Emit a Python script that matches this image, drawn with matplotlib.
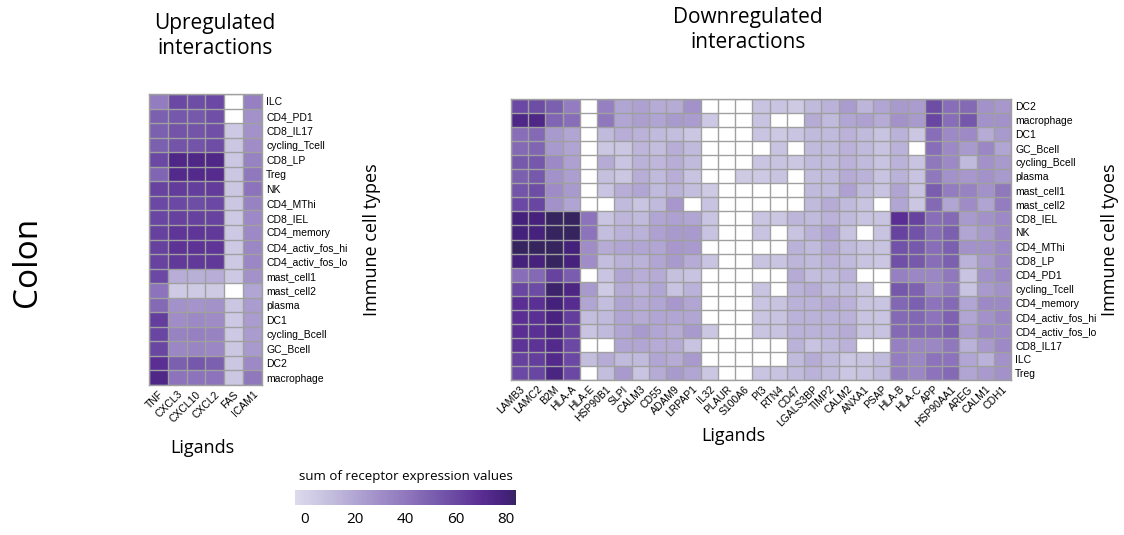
import numpy as np
import matplotlib
matplotlib.use("Agg")
import matplotlib.pyplot as plt
from matplotlib.colors import LinearSegmentedColormap, Normalize
from matplotlib.colorbar import ColorbarBase

nan = np.nan

# upregulated interactions
up_ligands = ["TNF", "CXCL3", "CXCL10", "CXCL2", "FAS", "ICAM1"]
up_cells = ["ILC", "CD4_PD1", "CD8_IL17", "cycling_Tcell", "CD8_LP", "Treg", "NK",
            "CD4_MThi", "CD8_IEL", "CD4_memory", "CD4_activ_fos_hi", "CD4_activ_fos_lo",
            "mast_cell1", "mast_cell2", "plasma", "DC1", "cycling_Bcell", "GC_Bcell",
            "DC2", "macrophage"]
up_values = [
    [38, 60, 58, 60, nan, 36],
    [50, 54, 53, 57, nan, 28],
    [50, 55, 55, 57, 5, 28],
    [50, 55, 55, 58, 6, 30],
    [60, 75, 75, 75, 6, 35],
    [48, 73, 73, 72, 6, 40],
    [62, 65, 64, 65, 6, 42],
    [60, 60, 58, 60, 6, 35],
    [61, 63, 63, 62, 5, 32],
    [63, 67, 67, 66, 5, 32],
    [63, 68, 68, 67, 5, 33],
    [62, 66, 66, 66, 5, 33],
    [60, 17, 16, 17, 5, 28],
    [42, 4, 4, 4, nan, 20],
    [46, 28, 27, 28, 6, 24],
    [64, 30, 32, 31, 5, 24],
    [61, 35, 36, 35, 5, 24],
    [61, 33, 34, 33, 6, 25],
    [70, 50, 54, 50, 6, 32],
    [75, 42, 42, 42, 6, 40],
]

# downregulated interactions
down_ligands = ["LAMB3", "LAMC2", "B2M", "HLA-A", "HLA-E", "HSP90B1", "SLPI", "CALM3",
                "CD55", "ADAM9", "LRPAP1", "IL32", "PLAUR", "S100A6", "PI3", "RTN4",
                "CD47", "LGALS3BP", "TIMP2", "CALM2", "ANXA1", "PSAP", "HLA-B", "HLA-C",
                "APP", "HSP90AA1", "AREG", "CALM1", "CDH1"]
down_cells = ["DC2", "macrophage", "DC1", "GC_Bcell", "cycling_Bcell", "plasma",
              "mast_cell1", "mast_cell2", "CD8_IEL", "NK", "CD4_MThi", "CD8_LP",
              "CD4_PD1", "cycling_Tcell", "CD4_memory", "CD4_activ_fos_hi",
              "CD4_activ_fos_lo", "CD8_IL17", "ILC", "Treg"]
down_values = [
    [60, 58, 50, 38, nan, 36, 20, 22, 18, 18, 28, nan, nan, nan, 8, 7, 4, 12, 15, 24, 14, 20, 25, 24, 58, 44, 46, 28, 26],
    [75, 75, 48, 44, nan, 40, 20, 23, 21, 25, 24, 5, nan, nan, 8, nan, nan, 18, 12, 20, 22, 18, 28, 25, 61, 44, 54, 28, 28],
    [44, 46, 25, 20, nan, 12, 17, 15, 12, 10, 6, nan, nan, nan, 7, 5, 7, 12, 12, 15, 12, 8, 15, 6, 44, 32, 32, 18, 25],
    [46, 48, 25, 21, nan, 6, 6, 14, 10, 17, 12, nan, nan, nan, nan, 8, nan, 12, 12, 15, 12, 8, 15, nan, 44, 32, 25, 33, 20],
    [53, 54, 32, 22, nan, 18, 7, 15, 13, 17, 12, nan, nan, nan, 7, 8, 6, 12, 12, 15, 12, 8, 15, 8, 40, 32, 12, 28, 25],
    [50, 53, 28, 23, nan, 9, 6, 17, 12, 17, 8, nan, nan, 4, 5, 8, nan, 10, 12, 18, 15, 8, 15, 8, 40, 28, 26, 28, 25],
    [55, 58, 31, 25, nan, 7, 17, 20, 12, 15, 10, 4, nan, nan, nan, nan, nan, 12, 12, 22, 12, 8, 21, 8, 51, 38, 35, 28, 40],
    [60, 61, 28, 21, nan, nan, 12, 7, 12, 26, nan, 8, nan, nan, nan, nan, nan, 12, 18, 12, 8, nan, 20, 6, 46, 20, 31, 21, 38],
    [80, 79, 85, 85, 42, 7, 14, 12, 20, 22, 20, 7, nan, nan, 7, 6, 14, 12, 15, 12, 8, 8, 70, 62, 44, 46, 25, 28, 32],
    [80, 79, 84, 84, 42, 10, 15, 15, 22, 25, 25, 8, nan, nan, 8, nan, 8, 15, 20, 8, nan, 8, 62, 56, 44, 50, 20, 25, 32],
    [85, 84, 84, 80, 30, 18, 20, 20, 20, 26, 25, nan, nan, nan, nan, nan, 15, 12, 18, 12, 8, 8, 56, 53, 44, 50, 28, 28, 32],
    [80, 79, 84, 79, 30, 10, 15, 15, 20, 25, 18, 7, nan, nan, 8, 7, 14, 12, 15, 12, 8, 6, 57, 53, 44, 50, 15, 25, 32],
    [44, 46, 62, 51, nan, 7, 20, 17, 18, 9, 8, nan, nan, nan, nan, nan, 18, 10, 12, 15, nan, nan, 36, 33, 33, 40, 8, 28, 32],
    [61, 59, 82, 76, 25, 4, 18, 15, 20, 8, 15, nan, nan, nan, 8, nan, 15, 18, 12, 12, 6, nan, 54, 49, 33, 40, 8, 25, 28],
    [70, 69, 80, 71, 20, 10, 21, 18, 20, 26, 20, nan, nan, nan, 7, 8, 15, 15, 18, 15, 8, 7, 47, 50, 42, 46, 20, 32, 32],
    [70, 69, 78, 64, 10, 12, 20, 18, 20, 20, 20, nan, nan, nan, 7, 8, 15, 15, 15, 15, 8, 7, 46, 47, 42, 49, 20, 28, 33],
    [70, 69, 76, 63, 7, 12, 20, 25, 20, 18, 25, 6, nan, nan, 7, 8, 15, 15, 15, 18, 8, 8, 46, 47, 46, 50, 24, 32, 32],
    [68, 68, 73, 60, nan, nan, 20, 20, 18, 18, 8, nan, nan, nan, nan, nan, 15, 8, 12, 15, nan, nan, 36, 33, 33, 40, 15, 25, 32],
    [63, 64, 73, 60, 10, 18, 12, 12, 20, 18, 25, nan, nan, nan, nan, nan, 12, 18, 12, 6, 8, 12, 37, 33, 42, 42, 20, 15, 28],
    [60, 61, 77, 60, nan, 10, 25, 7, 18, 25, 20, 6, nan, nan, 7, 8, 12, 15, 12, 6, 8, 12, 37, 33, 42, 46, 20, 25, 28],
]

cbar_ticks = [0, 20, 40, 60, 80]

# colour scale
vmin, vmax = -4, 84
stops = [(-4, "#dcdaec"), (10, "#c4bede"), (20, "#b1a6d3"), (30, "#a08dc7"),
         (40, "#9078bd"), (50, "#7c60b0"), (60, "#6b49a3"), (70, "#5a2e93"),
         (80, "#45217b"), (84, "#36245f")]
cmap = LinearSegmentedColormap.from_list(
    "purp", [((v - vmin) / (vmax - vmin), c) for v, c in stops])
cmap.set_bad("white")
norm = Normalize(vmin=vmin, vmax=vmax)

title_font = "Open Sans"
tick_font = "Liberation Sans"
grid_col = "#a0a0a0"

fig = plt.figure(figsize=(11.24, 5.35), dpi=100)


def heatmap(rect, values, ligands, cells):
    ax = fig.add_axes(rect)
    data = np.ma.masked_invalid(np.array(values, dtype=float))
    nr, nc = data.shape
    ax.pcolormesh(np.arange(nc + 1), np.arange(nr + 1), data, cmap=cmap, norm=norm)
    ax.hlines(np.arange(nr + 1), 0, nc, color=grid_col, lw=1.0)
    ax.vlines(np.arange(nc + 1), 0, nr, color=grid_col, lw=1.0)
    ax.set_xlim(0, nc)
    ax.set_ylim(nr, 0)
    ax.set_xticks(np.arange(nc) + 0.5)
    ax.set_xticklabels(ligands, rotation=45, ha="right", va="top",
                       rotation_mode="anchor", fontsize=7.5, family=tick_font)
    ax.set_yticks(np.arange(nr) + 0.5)
    ax.set_yticklabels(cells, fontsize=7.5, family=tick_font)
    ax.yaxis.tick_right()
    ax.tick_params(length=0, pad=3)
    for s in ax.spines.values():
        s.set_color(grid_col)
        s.set_linewidth(1.0)
    return ax


ax_up = heatmap([149 / 1124, 1 - 385 / 535, 113 / 1124, 291 / 535],
                up_values, up_ligands, up_cells)
ax_down = heatmap([511 / 1124, 1 - 380 / 535, 500 / 1124, 281 / 535],
                  down_values, down_ligands, down_cells)

fig.text(215 / 1124, 1 - 36 / 535, "Upregulated\ninteractions", ha="center",
         va="center", fontsize=15, family=title_font, linespacing=1.3)
fig.text(748 / 1124, 1 - 30 / 535, "Downregulated\ninteractions", ha="center",
         va="center", fontsize=15, family=title_font, linespacing=1.3)
fig.text(28 / 1124, 1 - 262 / 535, "Colon", rotation=90, ha="center", va="center",
         fontsize=24, family=title_font)
fig.text(372 / 1124, 1 - 240 / 535, "Immune cell types", rotation=90, ha="center",
         va="center", fontsize=13, family=title_font)
fig.text(1110 / 1124, 1 - 240 / 535, "Immune cell tyoes", rotation=90, ha="center",
         va="center", fontsize=13, family=title_font)
fig.text(202 / 1124, 1 - 448 / 535, "Ligands", ha="center", va="center",
         fontsize=13, family=title_font)
fig.text(733 / 1124, 1 - 436 / 535, "Ligands", ha="center", va="center",
         fontsize=13, family=title_font)

# colour bar
cax = fig.add_axes([295 / 1124, 1 - 505 / 535, 221 / 1124, 15 / 535])
cb = ColorbarBase(cax, cmap=cmap, norm=norm, orientation="horizontal", ticks=cbar_ticks)
cb.outline.set_visible(False)
cax.tick_params(length=0, labelsize=11, pad=5)
for t in cax.get_xticklabels():
    t.set_family(title_font)
cax.set_title("sum of receptor expression values", fontsize=9.5, family=title_font, pad=7)

fig.savefig("out.png", dpi=100)
